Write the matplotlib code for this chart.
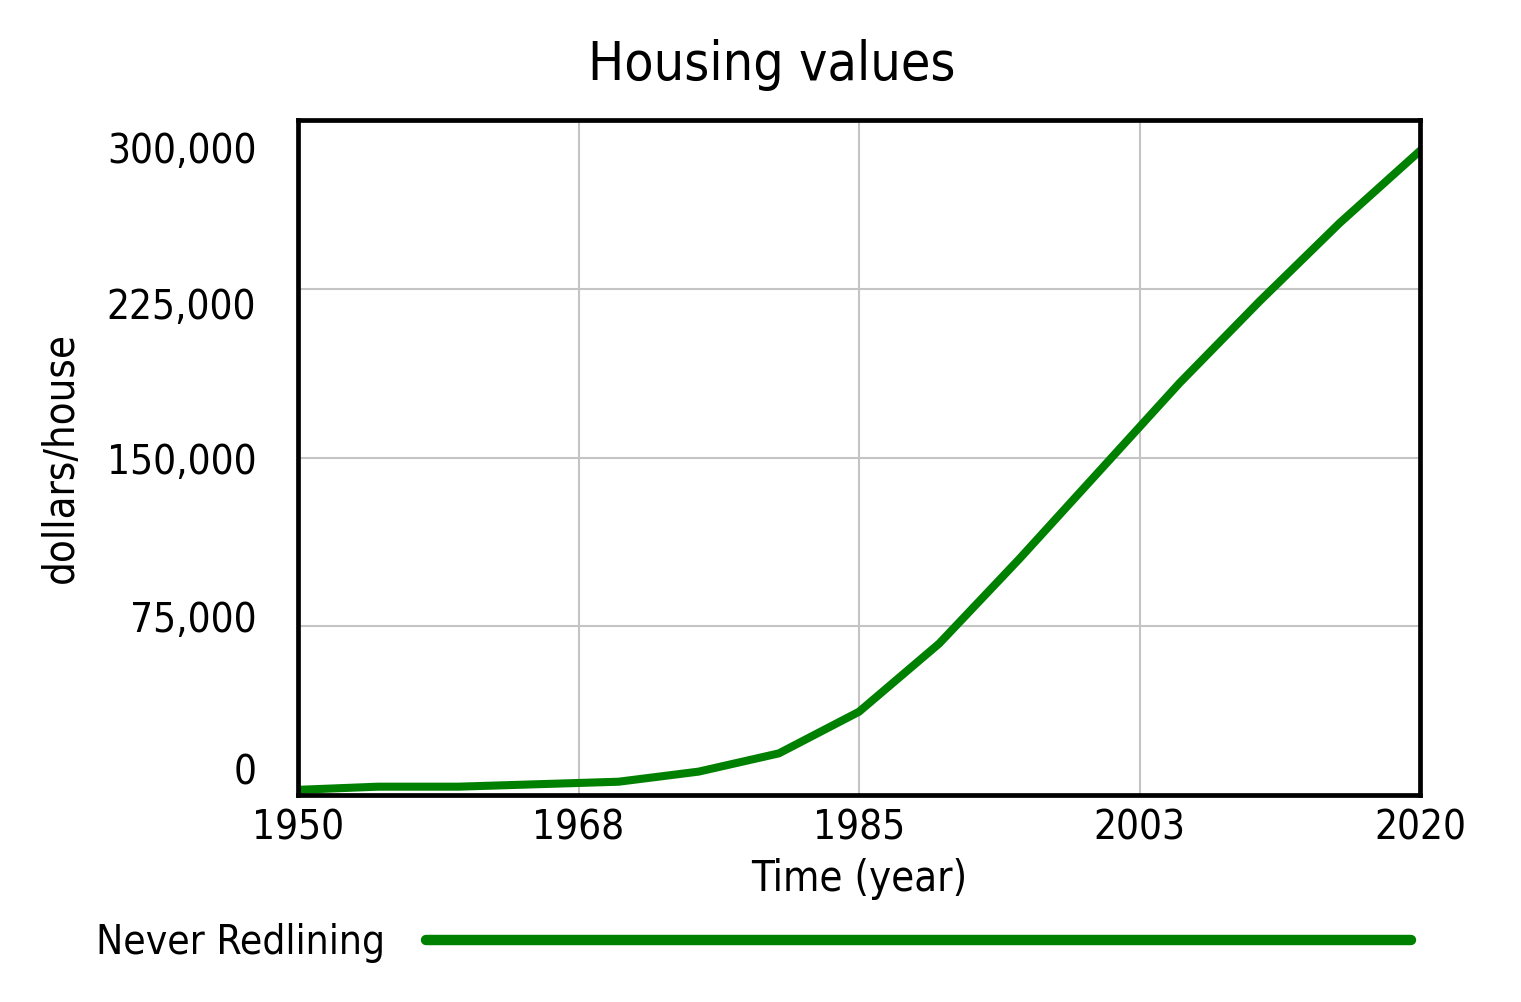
import matplotlib.pyplot as plt
from matplotlib.transforms import ScaledTranslation

# valores (dólares por casa, cada 5 años)
years = [1950, 1955, 1960, 1965, 1970, 1975, 1980, 1985,
         1990, 1995, 2000, 2005, 2010, 2015, 2020]
house_value = [2300, 3700, 3700, 4800, 5900, 10400, 18500, 37000,
               67300, 104900, 144000, 183100, 219500, 254300, 286300]

x_ticks = [1950, 1967.5, 1985, 2002.5, 2020]
x_tick_labels = ["1950", "1968", "1985", "2003", "2020"]
y_ticks = [0, 75000, 150000, 225000, 300000]
y_tick_labels = ["0", "75,000", "150,000", "225,000", "300,000"]
series_name = "Never Redlining"

plt.rcParams['font.family'] = ['DejaVu Sans']
plt.rcParams['font.stretch'] = 'condensed'

fig = plt.figure(figsize=(15.21, 10.02), dpi=100)
ax = fig.add_axes([298 / 1521, 1 - 795 / 1002, 1122 / 1521, 675 / 1002])

ax.plot(years, house_value, color='#008000', lw=5.8, label=series_name)

ax.set_xlim(1950, 2020)
ax.set_ylim(0, 300000)
ax.set_xticks(x_ticks, x_tick_labels)
ax.set_yticks(y_ticks, y_tick_labels)
ax.tick_params(length=0, labelsize=29)
ax.tick_params(axis='x', pad=10)
ax.tick_params(axis='y', pad=30)
ax.grid(True, color='#c4c4c4', lw=1.5)
for s in ax.spines.values():
    s.set_linewidth(3.4)
    s.set_color('black')

# Vensim reparte las etiquetas del eje Y dentro del marco
y_shift_pt = [18.7, 7.2, -0.7, -10.5, -19.5]
for lbl, dy in zip(ax.get_yticklabels(), y_shift_pt):
    lbl.set_transform(lbl.get_transform() + ScaledTranslation(0, dy / 72, fig.dpi_scale_trans))

ax.set_xlabel("Time (year)", fontsize=30)
ax.xaxis.set_label_coords(0.5, -0.094)
ax.set_ylabel("dollars/house", fontsize=30)
ax.yaxis.set_label_coords(-0.193, 0.5)

fig.text(771.5 / 1521, 1 - 80 / 1002, "Housing values", ha='center', va='baseline', fontsize=38.5)

leg = ax.legend(loc='center left', bbox_to_anchor=(96 / 1521, 1 - 943 / 1002),
                bbox_transform=fig.transFigure, frameon=False, markerfirst=False,
                handlelength=24.3, handletextpad=1.0, borderpad=0, borderaxespad=0,
                fontsize=29.2)
for line in leg.get_lines():
    line.set_linewidth(7.5)
    line.set_solid_capstyle('round')

fig.savefig("out.png", dpi=100)
